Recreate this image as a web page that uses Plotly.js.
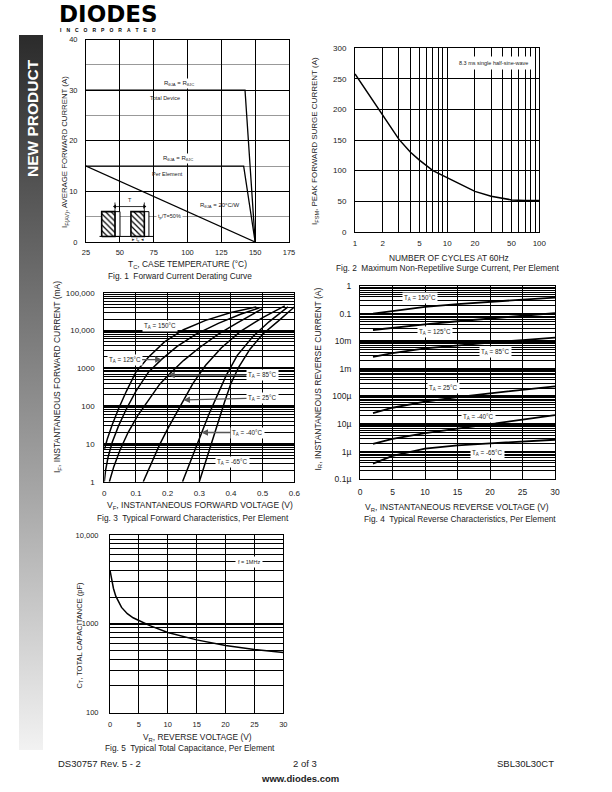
<!DOCTYPE html>
<html>
<head>
<meta charset="utf-8">
<script src="https://cdn.plot.ly/plotly-3.0.1.min.js"></script>
<style>
  body { margin: 0; background: #fff; }
  /* grey "NEW PRODUCT" side band */
  #band { position: absolute; left: 19px; top: 35px; width: 24px; height: 715px;
          background: linear-gradient(#2b2b2b, #6e6e6e 35%, #a8a8a8 65%, #f2f2f2); }
  #page { position: absolute; left: 0; top: 0; width: 612px; height: 792px; }
</style>
</head>
<body>
<div id="band"></div>
<div id="page"></div>
<script>
// Fig. 1 - forward current derating
const derateTempTotal = [25, 142.5, 150];
const derateCurrTotal = [30, 30, 0];
const derateTempElem = [25, 141.5, 150];
const derateCurrElem = [15, 15, 0];
const derateTempRja = [25, 150];
const derateCurrRja = [15, 0];

// inset pulse sketch in fig. 1 (data units of fig. 1)
const pulseHatchStart = [36.6, 58.2];
const pulseHatchEnd = [46.4, 68.1];
const pulseOpenEnd = [50.1, 71.5];
const pulseLow = 1.1;
const pulseHigh = 6;

// Fig. 2 - surge current
const surgeCycles = [1, 1.5, 2, 3, 4, 5, 7, 10, 15, 20, 30, 50, 70, 100];
const surgeCurrent = [258, 218, 189, 151, 130, 117, 100, 88, 75, 66, 58, 52, 51, 51];

// Fig. 3 - forward characteristics (V, mA)
const fwdV150 = [0, 0.01, 0.025, 0.045, 0.07, 0.1, 0.14, 0.19, 0.25, 0.32, 0.4, 0.48];
const fwdI150 = [7, 14, 32, 85, 250, 800, 2000, 5000, 10500, 18500, 30000, 42000];
const fwdV125 = [0, 0.004, 0.012, 0.025, 0.045, 0.07, 0.1, 0.14, 0.18, 0.23, 0.29, 0.36, 0.43, 0.49];
const fwdI125 = [1, 2, 4.5, 11, 30, 85, 250, 800, 1700, 3800, 8000, 15500, 27000, 40000];
const fwdV85 = [0.016, 0.03, 0.05, 0.075, 0.105, 0.14, 0.175, 0.205, 0.25, 0.3, 0.36, 0.42, 0.47, 0.5];
const fwdI85 = [1, 2.5, 7, 20, 55, 150, 380, 700, 1600, 3500, 8000, 16000, 28000, 38000];
const fwdV25 = [0.123, 0.148, 0.174, 0.2, 0.225, 0.25, 0.28, 0.32, 0.37, 0.43, 0.5, 0.57];
const fwdI25 = [1, 3, 9.3, 25, 60, 145, 400, 1200, 3500, 9500, 22000, 45000];
const fwdVm40 = [0.247, 0.27, 0.29, 0.307, 0.33, 0.36, 0.385, 0.42, 0.47, 0.52, 0.58];
const fwdIm40 = [1, 3.2, 8.6, 20, 60, 220, 650, 2200, 7000, 17000, 42000];
const fwdVm65 = [0.3, 0.32, 0.34, 0.36, 0.38, 0.4, 0.425, 0.46, 0.5, 0.55, 0.6];
const fwdIm65 = [1, 3.5, 12, 40, 130, 400, 1100, 3200, 8000, 18000, 42000];

// Fig. 4 - reverse characteristics (V, A)
const revV = [2, 5, 10, 15, 20, 25, 30];
const revI150 = [0.1, 0.125, 0.175, 0.22, 0.27, 0.32, 0.38];
const revI125 = [0.0255, 0.031, 0.041, 0.053, 0.067, 0.085, 0.105];
const revI85 = [0.0027, 0.0037, 0.0055, 0.0071, 0.0089, 0.011, 0.0135];
const revI25 = [2.5e-5, 3.9e-5, 6.5e-5, 9.5e-5, 1.3e-4, 1.75e-4, 2.3e-4];
const revIm40 = [1.9e-6, 2.9e-6, 4.7e-6, 7.0e-6, 1.0e-5, 1.45e-5, 2.1e-5];
const revIm65 = [3.7e-7, 7.0e-7, 1.3e-6, 1.7e-6, 2.0e-6, 2.35e-6, 2.7e-6];
const revTickVals = [1e-7, 1e-6, 1e-5, 1e-4, 1e-3, 1e-2, 0.1, 1];
const revTickText = ['0.1\u00b5', '1\u00b5', '10\u00b5', '100\u00b5', '1m', '10m', '0.1', '1'];

// Fig. 5 - total capacitance
const capV = [0, 0.3, 0.6, 1, 1.5, 2, 3, 4, 5, 7, 10, 15, 20, 25, 30];
const capC = [4000, 3000, 2500, 2050, 1750, 1530, 1300, 1170, 1090, 950, 800, 660, 570, 515, 475];

const FONT = 'Liberation Sans, Arial, sans-serif';
const W = 612, H = 792;
const fx = p => p / W;
const fy = p => 1 - p / H;

// minor grid positions for log axes: 2..9 in each decade
function logMinor(fromExp, toExp) {
  const v = [];
  for (let e = fromExp; e < toExp; e++)
    for (let d = 2; d <= 9; d++) v.push(d * Math.pow(10, e));
  return v;
}

function axis(extra) {
  return Object.assign({
    showline: true, mirror: true, linecolor: '#000', linewidth: 1,
    showgrid: true, gridcolor: '#000', gridwidth: 1, zeroline: false,
    ticks: '', ticklabelstandoff: 4, fixedrange: true,
    tickfont: {family: FONT, size: 8, color: '#222'}
  }, extra);
}

function line(x, y, xa, ya, width) {
  return {x: x, y: y, xaxis: xa, yaxis: ya, mode: 'lines', hoverinfo: 'skip',
          line: {color: '#000', width: width || 1.3}};
}

function text(t, x, y, size, extra) {
  return Object.assign({
    text: t, xref: 'paper', yref: 'paper', x: fx(x), y: fy(y), showarrow: false,
    xanchor: 'center', yanchor: 'middle', font: {family: FONT, size: size, color: '#222'}
  }, extra || {});
}

function label(t, xa, ya, x, y, size, extra) {
  return Object.assign({
    text: t, xref: xa, yref: ya, x: x, y: y, showarrow: false, bgcolor: '#fff',
    borderpad: 1, font: {family: FONT, size: size || 6, color: '#222'}
  }, extra || {});
}

const traces = [];

// fig 1
traces.push(line(derateTempTotal, derateCurrTotal, 'x', 'y'));
traces.push(line(derateTempElem, derateCurrElem, 'x', 'y'));
traces.push(line(derateTempRja, derateCurrRja, 'x', 'y'));
for (let i = 0; i < pulseHatchStart.length; i++) {
  const a = pulseHatchStart[i], b = pulseHatchEnd[i], c = pulseOpenEnd[i];
  traces.push({x: [b, c, c, b, b], y: [pulseLow, pulseLow, pulseHigh, pulseHigh, pulseLow],
    xaxis: 'x', yaxis: 'y', mode: 'lines', fill: 'toself', fillcolor: '#fff',
    line: {color: '#000', width: 1}, hoverinfo: 'skip'});
  traces.push({x: [a, b, b, a, a], y: [pulseLow, pulseLow, pulseHigh, pulseHigh, pulseLow],
    xaxis: 'x', yaxis: 'y', mode: 'lines', fill: 'toself', fillcolor: '#fff',
    fillpattern: {shape: '\\', fgcolor: '#000', bgcolor: '#fff', size: 4, solidity: 0.3},
    line: {color: '#000', width: 1.6}, hoverinfo: 'skip'});
}
traces.push(line([35, 74.5], [pulseLow, pulseLow], 'x', 'y', 1));
traces.push(line([pulseHatchEnd[0], pulseHatchEnd[0], null, pulseHatchEnd[1], pulseHatchEnd[1]],
                 [pulseHigh, 7.8, null, pulseHigh, 7.8], 'x', 'y', 0.8));
traces.push({x: [pulseHatchEnd[0], pulseHatchEnd[1]], y: [7, 7], xaxis: 'x', yaxis: 'y',
  mode: 'lines+markers', hoverinfo: 'skip', line: {color: '#000', width: 0.8},
  marker: {symbol: ['triangle-left', 'triangle-right'], size: 4, color: '#000'}});

// fig 2
traces.push(line(surgeCycles, surgeCurrent, 'x2', 'y2', 1.5));

// fig 3
[[fwdV150, fwdI150], [fwdV125, fwdI125], [fwdV85, fwdI85], [fwdV25, fwdI25],
 [fwdVm40, fwdIm40], [fwdVm65, fwdIm65]].forEach(c => traces.push(line(c[0], c[1], 'x3', 'y3', 1.5)));

// fig 4
[revI150, revI125, revI85, revI25, revIm40, revIm65].forEach(c => traces.push(line(revV, c, 'x4', 'y4', 1.8)));

// fig 5
traces.push(line(capV, capC, 'x5', 'y5', 1.5));

const lg = Math.log10;

const annotations = [
  // header
  text('DIODES', 108, 14.5, 23, {font: {family: 'DejaVu Sans', size: 23, color: '#000', weight: 'bold'}}),
  text('I\u2003N\u2003C\u2003O\u2003R\u2003P\u2003O\u2003R\u2003A\u2003T\u2003E\u2003D', 108, 30, 5,
       {font: {family: FONT, size: 5, color: '#000', weight: 'bold'}}),
  text('NEW PRODUCT', 32, 118, 15.5, {textangle: -90,
       font: {family: FONT, size: 15.5, color: '#fff', weight: 'bold'}}),

  // fig 1
  text('I<sub>F(AV)</sub>, AVERAGE FORWARD CURRENT (A)', 65, 152, 7.8, {textangle: -90}),
  text('T<sub>C</sub>, CASE TEMPERATURE (\u00b0C)', 187, 265, 8.4),
  text('Fig. 1  Forward Current Derating Curve', 180, 276, 8.3),
  label('R<sub>\u03b8JA</sub> = R<sub>\u03b8JC</sub>', 'x', 'y', 94, 31.4, 6),
  label('Total Device', 'x', 'y', 83.4, 28.4, 5.5, {bgcolor: 'rgba(0,0,0,0)'}),
  label('R<sub>\u03b8JA</sub> = R<sub>\u03b8JC</sub>', 'x', 'y', 93, 16.4, 6),
  label('Per Element', 'x', 'y', 85, 13.4, 5.5, {bgcolor: 'rgba(0,0,0,0)'}),
  label('R<sub>\u03b8JA</sub> = 20\u00b0C/W', 'x', 'y', 124, 7.3, 6, {bgcolor: 'rgba(0,0,0,0)'}),
  label('t<sub>p</sub>/T=50%', 'x', 'y', 87, 5, 5.5),
  label('T', 'x', 'y', 57.2, 8.3, 5.5, {bgcolor: 'rgba(0,0,0,0)'}),
  label('\u25b8 t<sub>p</sub> \u25c2', 'x', 'y', 63.3, 0.35, 4.5, {bgcolor: 'rgba(0,0,0,0)'}),

  // fig 2
  text('I<sub>FSM</sub>, PEAK FORWARD SURGE CURRENT (A)', 315, 141, 8, {textangle: -90}),
  text('NUMBER OF CYCLES AT 60Hz', 449, 258, 8.4),
  text('Fig. 2  Maximum Non-Repetilive Surge Current, Per Element', 448, 267.5, 8.3),
  label('8.3 ms single half-sine-wave', 'x2', 'y2', lg(32.2), 275.5, 5.5, {borderpad: 3}),

  // fig 3
  text('I<sub>F</sub>, INSTANTANEOUS FORWARD CURRENT (mA)', 57, 377, 8.5, {textangle: -90}),
  text('V<sub>F</sub>, INSTANTANEOUS FORWARD VOLTAGE (V)', 200, 506, 8.5),
  text('Fig. 3  Typical Forward Characteristics, Per Element', 193, 518, 8.3),
  label('T<sub>A</sub> = 150\u00b0C', 'x3', 'y3', 0.176, lg(13400), 6.3),
  label('T<sub>A</sub> = 125\u00b0C', 'x3', 'y3', 0.181, lg(1700), 6.3, {showarrow: true, ax: -37, ay: 0,
        arrowhead: 2, arrowsize: 1, arrowwidth: 1.3, arrowcolor: '#555'}),
  label('T<sub>A</sub> = 85\u00b0C', 'x3', 'y3', 0.202, lg(660), 6.3, {showarrow: true, ax: 94, ay: 0,
        arrowhead: 2, arrowsize: 1, arrowwidth: 1.3, arrowcolor: '#555'}),
  label('T<sub>A</sub> = 25\u00b0C', 'x3', 'y3', 0.25, lg(145), 6.3, {showarrow: true, ax: 79, ay: -2,
        arrowhead: 2, arrowsize: 1, arrowwidth: 1.3, arrowcolor: '#555'}),
  label('T<sub>A</sub> = -40\u00b0C', 'x3', 'y3', 0.307, lg(20), 6.3, {showarrow: true, ax: 46, ay: 0,
        arrowhead: 2, arrowsize: 1, arrowwidth: 1.3, arrowcolor: '#555'}),
  label('T<sub>A</sub> = -65\u00b0C', 'x3', 'y3', 0.406, lg(3.4), 6.3),

  // fig 4
  text('I<sub>R</sub>, INSTANTANEOUS REVERSE CURRENT (A)', 317.5, 379, 8.5, {textangle: -90}),
  text('V<sub>R</sub>, INSTANTANEOUS REVERSE VOLTAGE (V)', 457, 507, 8.5),
  text('Fig. 4  Typical Reverse Characteristics, Per Element', 460, 519, 8.3),
  label('T<sub>A</sub> = 150\u00b0C', 'x4', 'y4', 9.3, lg(0.357), 6.3),
  label('T<sub>A</sub> = 125\u00b0C', 'x4', 'y4', 11.5, lg(0.021), 6.3),
  label('T<sub>A</sub> = 85\u00b0C', 'x4', 'y4', 20.9, lg(0.0042), 6.3),
  label('T<sub>A</sub> = 25\u00b0C', 'x4', 'y4', 12.8, lg(1.97e-4), 6.3),
  label('T<sub>A</sub> = -40\u00b0C', 'x4', 'y4', 18.3, lg(1.86e-5), 6.3),
  label('T<sub>A</sub> = -65\u00b0C', 'x4', 'y4', 19.6, lg(9.3e-7), 6.3),

  // fig 5
  text('C<sub>T</sub>, TOTAL CAPACITANCE (pF)', 79.5, 635, 7.5, {textangle: -90}),
  text('V<sub>R</sub>, REVERSE VOLTAGE (V)', 197, 737, 8.4),
  text('Fig. 5  Typical Total Capacitance, Per Element', 190, 748, 8.3),
  label('f = 1MHz', 'x5', 'y5', 24.1, lg(5000), 5.5, {borderpad: 2}),

  // footer
  text('DS30757 Rev. 5 - 2', 56, 763, 9.5, {xanchor: 'left'}),
  text('2 of 3', 305, 763, 9.5),
  text('SBL30L30CT', 556, 763, 9.5, {xanchor: 'right'}),
  text('www.diodes.com', 300, 778, 9.5, {font: {family: FONT, size: 9.5, color: '#222', weight: 'bold'}})
];

const layout = {
  width: W, height: H, margin: {l: 0, r: 0, t: 0, b: 0},
  paper_bgcolor: 'rgba(0,0,0,0)', plot_bgcolor: '#fff',
  showlegend: false, hovermode: false,
  xaxis: axis({domain: [fx(86), fx(289)], anchor: 'y', range: [25, 175],
    tickvals: [25, 50, 75, 100, 125, 150, 175], ticklabelstandoff: 3,
    tickfont: {family: FONT, size: 7.5, color: '#222'}}),
  yaxis: axis({domain: [fy(242), fy(39.5)], anchor: 'x', range: [0, 40], dtick: 10,
    ticklabelstandoff: 6, tickfont: {family: FONT, size: 7.5, color: '#222'},
    minor: {dtick: 5, showgrid: true, gridcolor: '#999', gridwidth: 1}}),
  xaxis2: axis({domain: [fx(355), fx(539.3)], anchor: 'y2', type: 'log', range: [0, 2],
    tickvals: [1, 2, 5, 10, 20, 50, 100], ticklabelstandoff: 4,
    minor: {tickmode: 'array', tickvals: [3, 4, 6, 7, 8, 9, 30, 40, 60, 70, 80, 90],
            showgrid: true, gridcolor: '#000', gridwidth: 1}}),
  yaxis2: axis({domain: [fy(231.7), fy(48.3)], anchor: 'x2', range: [0, 300], dtick: 50,
    ticklabelstandoff: 6}),
  xaxis3: axis({domain: [fx(104.3), fx(294.3)], anchor: 'y3', range: [0, 0.6],
    tickvals: [0, 0.1, 0.2, 0.3, 0.4, 0.5, 0.6], ticktext: ['0', '0.1', '0.2', '0.3', '0.4', '0.5', '0.6'],
    ticklabelstandoff: 4}),
  yaxis3: axis({domain: [fy(481.7), fy(292.7)], anchor: 'x3', type: 'log', range: [0, 5],
    tickvals: [1, 10, 100, 1000, 10000, 100000],
    ticktext: ['1', '10', '100', '1000', '10,000', '100,000'], gridwidth: 2, ticklabelstandoff: 7,
    minor: {tickmode: 'array', tickvals: logMinor(0, 5), showgrid: true, gridcolor: '#000', gridwidth: 1}}),
  xaxis4: axis({domain: [fx(360), fx(555)], anchor: 'y4', range: [0, 30], dtick: 5,
    ticklabelstandoff: 4, tickfont: {family: FONT, size: 8.5, color: '#222'}}),
  yaxis4: axis({domain: [fy(479.3), fy(286)], anchor: 'x4', type: 'log', range: [-7, 0],
    tickvals: revTickVals, ticktext: revTickText, gridwidth: 2, ticklabelstandoff: 6,
    tickfont: {family: FONT, size: 8.5, color: '#222'},
    minor: {tickmode: 'array', tickvals: logMinor(-7, 0), showgrid: true, gridcolor: '#000', gridwidth: 1}}),
  xaxis5: axis({domain: [fx(110), fx(283.3)], anchor: 'y5', range: [0, 30], dtick: 5,
    ticklabelstandoff: 4, tickfont: {family: FONT, size: 7.5, color: '#222'}}),
  yaxis5: axis({domain: [fy(712.7), fy(535)], anchor: 'x5', type: 'log', range: [2, 4],
    tickvals: [100, 1000, 10000], ticktext: ['100', '1000', '10,000'], gridwidth: 2,
    ticklabelstandoff: 9, tickfont: {family: FONT, size: 7.5, color: '#222'},
    minor: {tickmode: 'array', tickvals: logMinor(2, 4), showgrid: true, gridcolor: '#000', gridwidth: 1}}),
  annotations: annotations
};

Plotly.newPlot('page', traces, layout, {staticPlot: true, displayModeBar: false});
</script>
</body>
</html>
